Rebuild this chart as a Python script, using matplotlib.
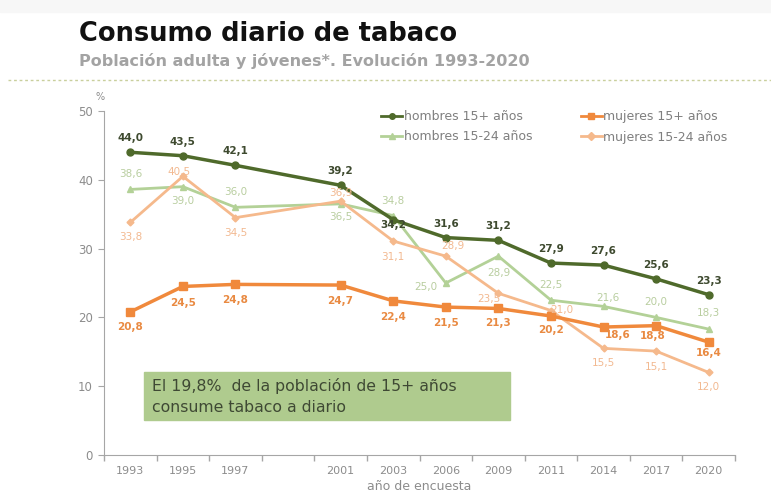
import matplotlib.pyplot as plt
import numpy as np
from matplotlib.lines import Line2D

plt.rcParams['font.family'] = ['DejaVu Sans']

# survey years (blank slot keeps the 1999 gap on the axis)
years = ['1993', '1995', '1997', '', '2001', '2003', '2006', '2009', '2011', '2014', '2017', '2020']
hombres_15 = [44.0, 43.5, 42.1, 39.2, 34.2, 31.6, 31.2, 27.9, 27.6, 25.6, 23.3]
mujeres_15 = [20.8, 24.5, 24.8, 24.7, 22.4, 21.5, 21.3, 20.2, 18.6, 18.8, 16.4]
hombres_1524 = [38.6, 39.0, 36.0, 36.5, 34.8, 25.0, 28.9, 22.5, 21.6, 20.0, 18.3]
mujeres_1524 = [33.8, 40.5, 34.5, 36.9, 31.1, 28.9, 23.5, 21.0, 15.5, 15.1, 12.0]

c_h15 = '#4f6a2b'
c_m15 = '#f0893c'
c_h1524 = '#b3d197'
c_m1524 = '#f5b98c'

xpos = [i for i, y in enumerate(years) if y]

# label offsets in pixels (dx, dy)
off_h15 = [(0, 14)] * 4 + [(0, -5)] + [(0, 14)] * 6
off_m15 = [(0, -15), (0, -17), (0, -16), (0, -16), (0, -16), (0, -16), (0, -15), (0, -14), (14, -8), (-3, -10), (0, -11)]
off_h1524 = [(0, 15), (0, -14), (0, 15), (0, -13), (0, 15), (-20, -4), (0, -17), (0, 15), (4, 8), (0, 15), (0, 16)]
off_m1524 = [(0, -15), (-4, 4), (0, -15), (0, 8), (0, -16), (7, 10), (-10, -6), (11, 1), (0, -15), (0, -16), (0, -15)]

fig = plt.figure(figsize=(7.71, 4.93), dpi=100)
ax = fig.add_axes([104/771, 1-455/493, (735-104)/771, (455-111)/493])

ax.plot(xpos, hombres_1524, color=c_h1524, lw=2, marker='^', ms=5, zorder=3, label='hombres 15-24 años')
ax.plot(xpos, mujeres_1524, color=c_m1524, lw=2, marker='D', ms=3.5, zorder=3, label='mujeres 15-24 años')
ax.plot(xpos, mujeres_15, color=c_m15, lw=2.5, marker='s', ms=6, zorder=4, label='mujeres 15+ años')
ax.plot(xpos, hombres_15, color=c_h15, lw=2.5, marker='o', ms=5, zorder=5, label='hombres 15+ años')

def put_labels(vals, offs, color, bold):
    for x, v, (dx, dy) in zip(xpos, vals, offs):
        ax.annotate(f'{v:.1f}'.replace('.', ','), (x, v), xytext=(dx, dy),
                    textcoords='offset pixels', ha='center', va='center',
                    fontsize=7.5, color=color, fontweight='bold' if bold else 'normal', zorder=6)

put_labels(hombres_1524, off_h1524, '#b9cea0', False)
put_labels(mujeres_1524, off_m1524, '#f2b991', False)
put_labels(mujeres_15, off_m15, '#e98a42', True)
put_labels(hombres_15, off_h15, '#3e4a2f', True)

ax.set_xlim(-0.5, len(years) - 0.5)
ax.set_ylim(0, 50)
ax.set_yticks(np.arange(0, 51, 10))
ax.set_xticks(np.arange(len(years) + 1) - 0.5)
ax.set_xticklabels([])
ax.set_xticks(np.arange(len(years)), minor=True)
ax.set_xticklabels(years, minor=True)
ax.tick_params(axis='x', which='major', length=4, color='#a6a6a6', width=1)
ax.tick_params(axis='x', which='minor', length=0, pad=8, labelsize=8, labelcolor='#8c8c8c')
ax.tick_params(axis='y', length=4, color='#a6a6a6', labelsize=8.5, labelcolor='#8c8c8c', pad=4)
for s in ['top', 'right']:
    ax.spines[s].set_visible(False)
for s in ['left', 'bottom']:
    ax.spines[s].set_color('#a6a6a6')
ax.set_xlabel('año de encuesta', fontsize=9, color='#8c8c8c', labelpad=3)
fig.text(100/771, 1-97/493, '%', fontsize=7, color='#8c8c8c', ha='center', va='center')

# legend: two columns
order = ['hombres 15+ años', 'hombres 15-24 años', 'mujeres 15+ años', 'mujeres 15-24 años']
hd = {l.get_label(): l for l in ax.get_lines()}
handles = [Line2D([], [], color=hd[k].get_color(), lw=2, marker=hd[k].get_marker(), ms=4) for k in order]
fig.legend(handles, order, loc='upper left', bbox_to_anchor=(381/771, 1-110/493), ncol=2,
           frameon=False, fontsize=9, handlelength=1.7, handletextpad=0.1, columnspacing=3.9,
           labelspacing=0.6, labelcolor='#7f7f7f', borderaxespad=0, borderpad=0)

# highlight box
fig.patches.append(plt.Rectangle((144/771, 1-420/493), (510-144)/771, 48/493,
                                 transform=fig.transFigure, color='#afcb8e', zorder=1))
fig.text(152/771, 1-386/493, 'El 19,8%  de la población de 15+ años', fontsize=11.3, color='#3f4934', va='center')
fig.text(152/771, 1-408/493, 'consume tabaco a diario', fontsize=11.3, color='#3f4934', va='center')

# header
fig.patches.append(plt.Rectangle((0, 1-12/493), 1, 12/493, transform=fig.transFigure, color='#f7f7f7', zorder=0))
fig.text(79/771, 1-34/493, 'Consumo diario de tabaco', fontsize=18.5, fontweight='bold', color='#111111', va='center')
fig.text(79/771, 1-61/493, 'Población adulta y jóvenes*. Evolución 1993-2020', fontsize=11.5, fontweight='bold',
         color='#a3a3a3', va='center')
fig.add_artist(Line2D([8/771, 1], [1-80/493, 1-80/493], transform=fig.transFigure,
                      color='#c9cf9d', lw=1, ls=(0, (2, 2))))

fig.savefig('out.png', dpi=100)
